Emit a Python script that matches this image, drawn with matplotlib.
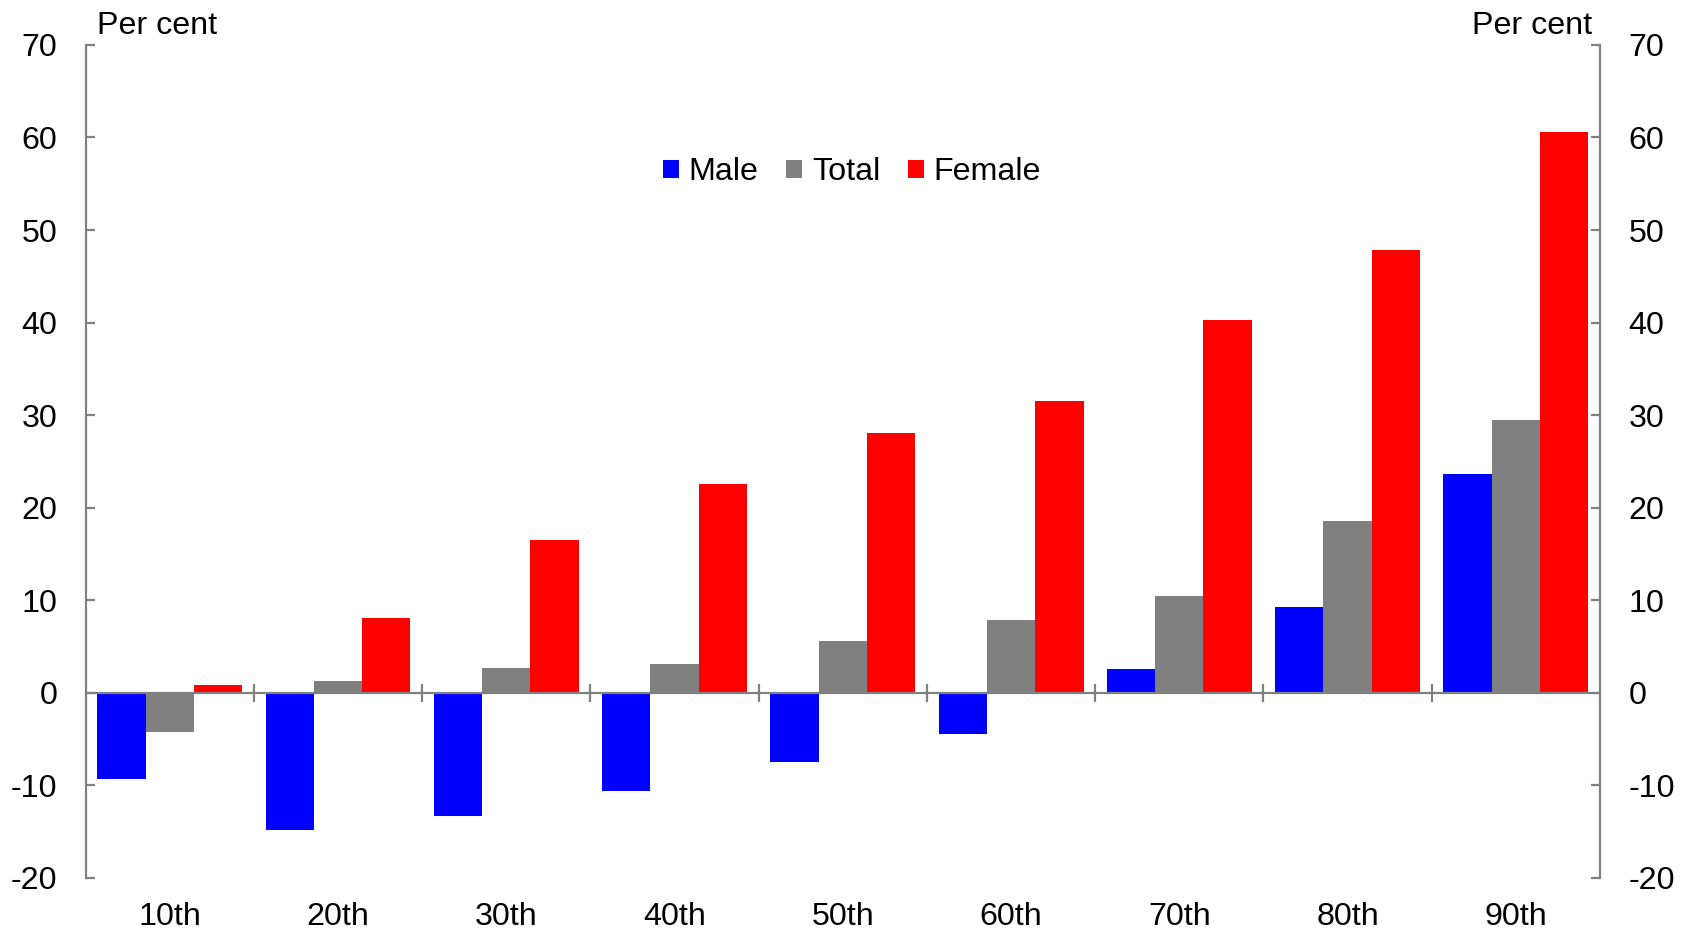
import matplotlib
matplotlib.use("Agg")
import matplotlib.pyplot as plt
import numpy as np

plt.rcParams['font.family'] = ['Liberation Sans', 'DejaVu Sans']

categories = ["10th", "20th", "30th", "40th", "50th", "60th", "70th", "80th", "90th"]
male = [-9.3, -14.9, -13.3, -10.6, -7.5, -4.5, 2.6, 9.2, 23.6]
total = [-4.3, 1.3, 2.7, 3.1, 5.6, 7.8, 10.4, 18.6, 29.5]
female = [0.8, 8.1, 16.5, 22.6, 28.1, 31.5, 40.3, 47.8, 60.6]
yticks = [-20, -10, 0, 10, 20, 30, 40, 50, 60, 70]

AX = '#808080'
FS = 23.2

fig = plt.figure(figsize=(16.89, 9.31), dpi=100)
ax = fig.add_axes([0.0507, 0.0573, 0.8966, 0.8944])

x = np.arange(len(categories))
w = 0.287
ax.bar(x - w, male, w, color='#0000FF', label='Male')
ax.bar(x, total, w, color='#808080', label='Total')
ax.bar(x + w, female, w, color='#FF0000', label='Female')

ax.set_xlim(-0.5, len(categories) - 0.5)
ax.set_ylim(-20, 70)
ax.set_yticks(yticks)
ax.set_yticklabels([str(v) for v in yticks])

ax.spines['top'].set_visible(False)
for s in ['left', 'right', 'bottom']:
    ax.spines[s].set_color(AX)
    ax.spines[s].set_linewidth(1.6)
ax.spines['bottom'].set_position(('data', 0))
ax.set_axisbelow(False)

ax.tick_params(axis='y', which='both', direction='in', length=6.7, width=1.6,
               color=AX, labelsize=FS, pad=20.5, left=True, right=True,
               labelleft=True, labelright=True)

ax.set_xticks(x)
ax.set_xticklabels(categories)
ax.set_xticks(np.arange(len(categories) - 1) + 0.5, minor=True)
ax.tick_params(axis='x', which='major', length=0, labelsize=FS, pad=151)
ax.tick_params(axis='x', which='minor', direction='inout', length=13, width=1.6, color=AX)

ax.text(0.0073, 1.0135, 'Per cent', transform=ax.transAxes, fontsize=FS,
        ha='left', va='baseline')
ax.text(0.9947, 1.0135, 'Per cent', transform=ax.transAxes, fontsize=FS,
        ha='right', va='baseline')

ax.legend(loc='center', bbox_to_anchor=(0.506, 0.847), ncol=3, frameon=False,
          fontsize=FS, handlelength=0.5, handleheight=0.5, handletextpad=0.3,
          columnspacing=0.85, borderpad=0)

fig.savefig('out.png', dpi=100)
